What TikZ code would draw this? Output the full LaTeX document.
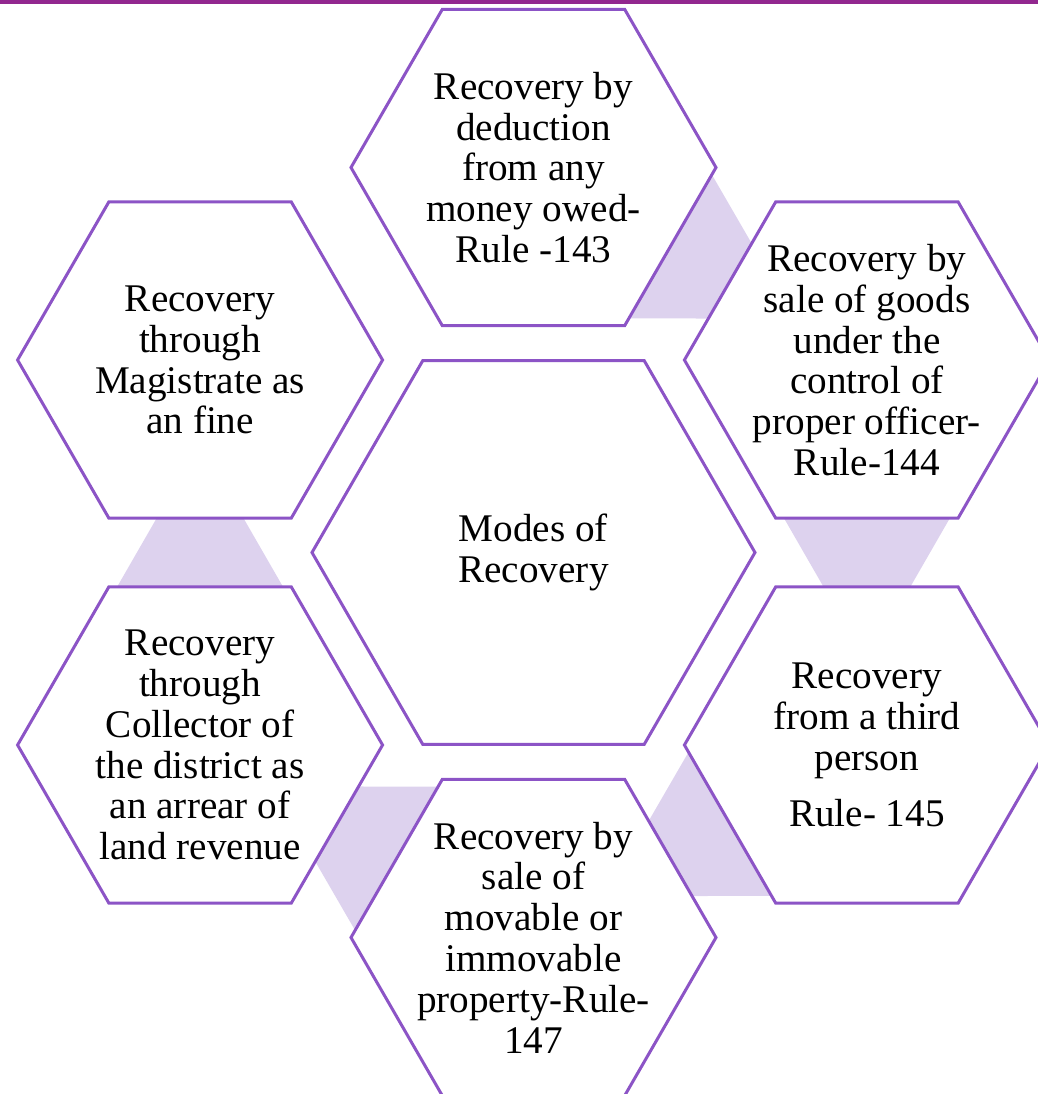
\documentclass[tikz,border=0pt]{standalone}
\usepackage{fontspec}
\setmainfont{Liberation Serif}
\usepackage{xcolor}
\usepackage{tikz}
\usetikzlibrary{shapes.geometric, calc, backgrounds}

\definecolor{hexline}{RGB}{140,84,198}
\definecolor{linkfill}{RGB}{221,210,238}
\definecolor{topbar}{RGB}{146,39,143}

\begin{document}
\begin{tikzpicture}[
    x=0.5pt, y=0.5pt,
    hex/.style={regular polygon, regular polygon sides=6, draw=hexline, line width=1.5pt, fill=white, inner sep=-10pt, minimum size=182.5pt, align=center, font=\fontsize{19.6pt}{20.4pt}\selectfont},
    hub/.style={hex, minimum size=221.5pt},
    link/.style={fill=linkfill}
]

% Canvas and top rule
\useasboundingbox (-533.5,-541.5) rectangle (504.5,552.5);
\fill[topbar] (-533.5,552.5) rectangle (504.5,548.5);

% Centre
\node[hub] (modes) at (0,0) {Modes of\\Recovery};

% Outer ring, clockwise from the top
\node[hex] (deduction) at (90:385) {Recovery by\\deduction\\from any\\money owed-\\Rule -143};
\node[hex] (goods) at (30:385) {Recovery by\\sale of goods\\under the\\control of\\proper officer-\\Rule-144};
\node[hex] (third) at (-30:385) {Recovery\\from a third\\person\\[8pt]Rule- 145};
\node[hex] (property) at (-90:385) {Recovery by\\sale of\\movable or\\immovable\\property-Rule-\\147};
\node[hex] (collector) at (-150:385) {Recovery\\through\\Collector of\\the district as\\an arrear of\\land revenue};
\node[hex] (magistrate) at (150:385) {Recovery\\through\\Magistrate as\\an fine};

% Links between neighbours
\begin{scope}[on background layer]
\fill[link] ($(deduction)!0.452!90:(goods)$) -- ($(deduction)!0.785!(goods)$) -- ($(deduction)!0.452!-90:(goods)$) -- cycle;
\fill[link] ($(goods)!0.452!90:(third)$) -- ($(goods)!0.785!(third)$) -- ($(goods)!0.452!-90:(third)$) -- cycle;
\fill[link] ($(third)!0.452!90:(property)$) -- ($(third)!0.785!(property)$) -- ($(third)!0.452!-90:(property)$) -- cycle;
\fill[link] ($(property)!0.452!90:(collector)$) -- ($(property)!0.785!(collector)$) -- ($(property)!0.452!-90:(collector)$) -- cycle;
\fill[link] ($(collector)!0.452!90:(magistrate)$) -- ($(collector)!0.785!(magistrate)$) -- ($(collector)!0.452!-90:(magistrate)$) -- cycle;
\end{scope}

\end{tikzpicture}
\end{document}
